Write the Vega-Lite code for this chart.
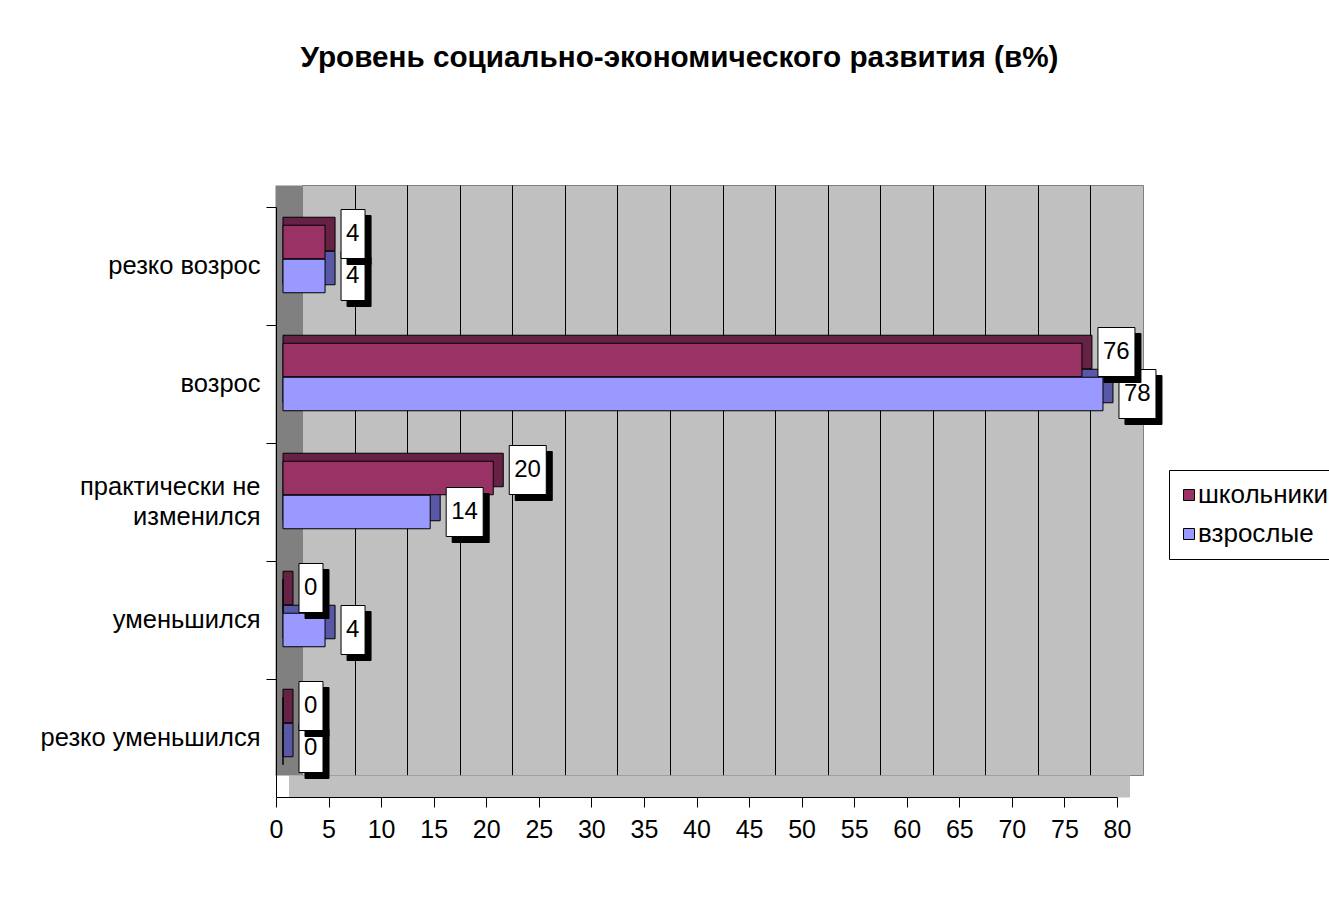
{
  "$schema": "https://vega.github.io/schema/vega-lite/v6.json",
  "width": 841,
  "height": 590,
  "autosize": {"type": "none"},
  "padding": {"left": 302, "top": 185, "right": 186, "bottom": 145},
  "background": "white",
  "title": {
    "text": "Уровень социально-экономического развития (в%)",
    "font": "Liberation Sans",
    "fontSize": 29.7,
    "fontWeight": "bold",
    "color": "#000000",
    "anchor": "middle",
    "frame": "group",
    "dx": -43,
    "offset": 88,
    "baseline": "alphabetic"
  },
  "config": {
    "view": {"fill": "#C0C0C0", "stroke": "#808080", "strokeWidth": 1},
    "font": "Liberation Sans",
    "axis": {"labelFont": "Liberation Sans", "labelColor": "#000000"}
  },
  "data": {
    "values": [
      {"category": "резко возрос", "series": "школьники", "value": 4},
      {"category": "резко возрос", "series": "взрослые", "value": 4},
      {"category": "возрос", "series": "школьники", "value": 76},
      {"category": "возрос", "series": "взрослые", "value": 78},
      {"category": "практически не изменился", "series": "школьники", "value": 20},
      {"category": "практически не изменился", "series": "взрослые", "value": 14},
      {"category": "уменьшился", "series": "школьники", "value": 0},
      {"category": "уменьшился", "series": "взрослые", "value": 4},
      {"category": "резко уменьшился", "series": "школьники", "value": 0},
      {"category": "резко уменьшился", "series": "взрослые", "value": 0}
    ]
  },
  "resolve": {"axis": {"x": "independent", "y": "independent"}},
  "layer": [
    {
      "transform": [{"filter": "datum.series === 'взрослые'"}],
      "mark": {"type": "bar", "fill": "#5858A6", "stroke": "#000000", "strokeWidth": 1, "height": {"band": 0.284}, "xOffset": -9, "x2Offset": -19, "yOffset": 24},
      "encoding": {
        "x": {
          "field": "value", "type": "quantitative",
          "scale": {"domain": [0, 80], "nice": false, "zero": true},
          "axis": {"orient": "bottom", "grid": true, "gridColor": "#000000", "gridOpacity": 1, "gridWidth": 1, "labels": false, "ticks": false, "domain": false, "title": null, "values": [5, 10, 15, 20, 25, 30, 35, 40, 45, 50, 55, 60, 65, 70, 75]}
        },
        "x2": {"datum": 0},
        "y": {
          "field": "category", "type": "nominal",
          "scale": {"domain": ["резко возрос", "возрос", "практически не изменился", "уменьшился", "резко уменьшился"], "paddingInner": 0, "paddingOuter": 0},
          "axis": {"orient": "left", "labels": false, "ticks": false, "grid": false, "domain": true, "domainColor": "#808080", "domainOpacity": 1, "domainWidth": 27, "offset": 13.5, "title": null}
        }
      }
    },
    {
      "transform": [{"filter": "datum.series === 'школьники'"}],
      "mark": {"type": "bar", "fill": "#662244", "stroke": "#000000", "strokeWidth": 1, "height": {"band": 0.284}, "xOffset": -9, "x2Offset": -19, "yOffset": -10},
      "encoding": {
        "x": {
          "field": "value", "type": "quantitative",
          "axis": {"orient": "bottom", "grid": false, "labels": false, "ticks": false, "domain": true, "domainColor": "#C0C0C0", "domainOpacity": 1, "domainWidth": 22, "offset": 11, "position": -13.5, "title": null}
        },
        "x2": {"datum": 0},
        "y": {
          "field": "category", "type": "nominal",
          "axis": {"orient": "left", "bandPosition": 0, "labels": false, "grid": false, "domain": false, "ticks": true, "tickColor": "#000000", "tickSize": 10, "position": 22, "offset": 26, "title": null}
        }
      }
    },
    {
      "transform": [{"filter": "datum.series === 'школьники'"}],
      "mark": {"type": "bar", "stroke": "#000000", "strokeWidth": 1, "height": {"band": 0.284}, "xOffset": -19, "x2Offset": -19, "yOffset": -2},
      "encoding": {
        "x": {
          "field": "value", "type": "quantitative",
          "axis": {"orient": "bottom", "grid": false, "domain": true, "domainColor": "#000000", "ticks": true, "tickColor": "#000000", "tickSize": 10, "labels": true, "labelFlush": false, "labelFontSize": 25, "labelPadding": 10, "values": [0, 5, 10, 15, 20, 25, 30, 35, 40, 45, 50, 55, 60, 65, 70, 75, 80], "position": -26, "offset": 22, "title": null}
        },
        "y": {
          "field": "category", "type": "nominal",
          "axis": {"orient": "left", "grid": false, "domain": true, "domainColor": "#000000", "ticks": false, "labels": true, "labelFontSize": 25.5, "labelPadding": 16, "labelLineHeight": 30, "labelLimit": 300, "labelOffset": {"condition": {"test": "datum.value === 'практически не изменился'", "value": -15}, "value": 0}, "labelExpr": "datum.label === 'практически не изменился' ? ['практически не', 'изменился'] : datum.label", "position": 22, "offset": 26, "title": null}
        },
        "color": {
          "field": "series", "type": "nominal",
          "scale": {"domain": ["школьники", "взрослые"], "range": ["#993366", "#9999FF"]},
          "legend": {"orient": "none", "legendX": 867, "legendY": 285, "title": null, "symbolType": "square", "symbolSize": 121, "symbolStrokeColor": "#000000", "symbolStrokeWidth": 1, "symbolOffset": -5, "labelFontSize": 26, "labelFont": "Liberation Sans", "labelColor": "#000000", "labelOffset": -4, "padding": 12, "rowPadding": 13, "strokeColor": "#000000", "fillColor": "#FFFFFF"}
        }
      }
    },
    {
      "transform": [{"filter": "datum.series === 'взрослые'"}],
      "mark": {"type": "bar", "stroke": "#000000", "strokeWidth": 1, "height": {"band": 0.284}, "xOffset": -19, "x2Offset": -19, "yOffset": 32},
      "encoding": {
        "x": {"field": "value", "type": "quantitative", "axis": null},
        "y": {"field": "category", "type": "nominal", "axis": null},
        "color": {"field": "series", "type": "nominal"}
      }
    },
    {
      "transform": [{"filter": "datum.series === 'взрослые'"}],
      "mark": {"type": "point", "filled": true, "fill": "#000000", "stroke": "#000000", "strokeWidth": 1, "opacity": 1, "size": 2500, "xOffset": 3, "yOffset": 38},
      "encoding": {
        "x": {"field": "value", "type": "quantitative", "axis": null},
        "y": {"field": "category", "type": "nominal", "axis": null},
        "shape": {"condition": {"test": "datum.value >= 10", "value": "M0,-0.98H1.48V0.98H0Z"}, "value": "M0,-0.98H0.96V0.98H0Z"}
      }
    },
    {
      "transform": [{"filter": "datum.series === 'взрослые'"}],
      "mark": {"type": "point", "filled": true, "fill": "#FFFFFF", "stroke": "#000000", "strokeWidth": 1, "opacity": 1, "size": 2500, "xOffset": -3, "yOffset": 32},
      "encoding": {
        "x": {"field": "value", "type": "quantitative", "axis": null},
        "y": {"field": "category", "type": "nominal", "axis": null},
        "shape": {"condition": {"test": "datum.value >= 10", "value": "M0,-0.98H1.48V0.98H0Z"}, "value": "M0,-0.98H0.96V0.98H0Z"}
      }
    },
    {
      "transform": [{"filter": "datum.series === 'взрослые'"}],
      "mark": {"type": "text", "align": "left", "baseline": "middle", "font": "Liberation Sans", "fontSize": 24, "color": "#000000", "xOffset": 2, "yOffset": 32},
      "encoding": {
        "x": {"field": "value", "type": "quantitative", "axis": null},
        "y": {"field": "category", "type": "nominal", "axis": null},
        "text": {"field": "value", "type": "quantitative"}
      }
    },
    {
      "transform": [{"filter": "datum.series === 'школьники'"}],
      "mark": {"type": "point", "filled": true, "fill": "#000000", "stroke": "#000000", "strokeWidth": 1, "opacity": 1, "size": 2500, "xOffset": 3, "yOffset": -4},
      "encoding": {
        "x": {"field": "value", "type": "quantitative", "axis": null},
        "y": {"field": "category", "type": "nominal", "axis": null},
        "shape": {"condition": {"test": "datum.value >= 10", "value": "M0,-0.98H1.48V0.98H0Z"}, "value": "M0,-0.98H0.96V0.98H0Z"}
      }
    },
    {
      "transform": [{"filter": "datum.series === 'школьники'"}],
      "mark": {"type": "point", "filled": true, "fill": "#FFFFFF", "stroke": "#000000", "strokeWidth": 1, "opacity": 1, "size": 2500, "xOffset": -3, "yOffset": -10},
      "encoding": {
        "x": {"field": "value", "type": "quantitative", "axis": null},
        "y": {"field": "category", "type": "nominal", "axis": null},
        "shape": {"condition": {"test": "datum.value >= 10", "value": "M0,-0.98H1.48V0.98H0Z"}, "value": "M0,-0.98H0.96V0.98H0Z"}
      }
    },
    {
      "transform": [{"filter": "datum.series === 'школьники'"}],
      "mark": {"type": "text", "align": "left", "baseline": "middle", "font": "Liberation Sans", "fontSize": 24, "color": "#000000", "xOffset": 2, "yOffset": -10},
      "encoding": {
        "x": {"field": "value", "type": "quantitative", "axis": null},
        "y": {"field": "category", "type": "nominal", "axis": null},
        "text": {"field": "value", "type": "quantitative"}
      }
    }
  ]
}
